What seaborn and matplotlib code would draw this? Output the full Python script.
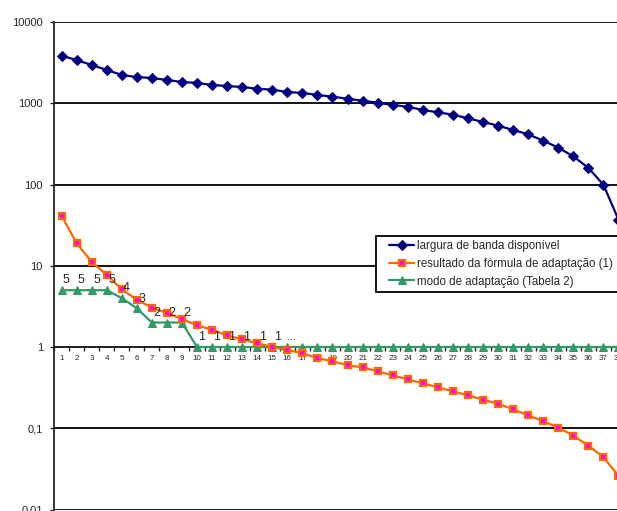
import numpy as np
import pandas as pd
import matplotlib
matplotlib.use("Agg")
import matplotlib.pyplot as plt
import seaborn as sns
from matplotlib.patches import Rectangle
from matplotlib.ticker import FixedLocator, FuncFormatter, NullFormatter

# ---------------------------------------------------------------
# data
# ---------------------------------------------------------------
categories = list(range(1, 39))

largura_banda = [3850, 3400, 2960, 2570, 2230, 2100, 2050, 1930, 1830, 1775,
                 1680, 1630, 1585, 1510, 1470, 1375, 1340, 1265, 1205, 1137,
                 1074, 1016, 951, 907, 826, 774, 723, 653, 588, 530,
                 469, 415, 346, 284, 222, 160, 99.5, 36.9]

formula_adaptacao = [41.3, 18.9, 11.2, 7.7, 5.13, 3.82, 3.05, 2.62, 2.21, 1.85,
                     1.63, 1.39, 1.24, 1.11, 1.0, 0.92, 0.836, 0.73, 0.667, 0.595,
                     0.562, 0.502, 0.448, 0.40, 0.357, 0.319, 0.285, 0.254, 0.225, 0.20,
                     0.171, 0.144, 0.122, 0.1016, 0.081, 0.061, 0.0439, 0.026]

modo_adaptacao = [5, 5, 5, 5, 4, 3, 2, 2, 2] + [1] * 29

# data labels shown above the green series (first 16 points)
modo_labels = ["5", "5", "5", "5", "4", "3", "2", "2", "2",
               "1", "1", "1", "1", "1", "1", "..."]

y_ticks = [0.01, 0.1, 1, 10, 100, 1000, 10000]
y_tick_labels = ["0,01", "0,1", "1", "10", "100", "1000", "10000"]

df = pd.DataFrame({
    "cat": categories,
    "largura": largura_banda,
    "formula": formula_adaptacao,
    "modo": modo_adaptacao,
})

# ---------------------------------------------------------------
# figure
# ---------------------------------------------------------------
sns.set_style("white")
plt.rcParams["font.family"] = ["Liberation Sans", "DejaVu Sans"]

fig = plt.figure(figsize=(6.17, 5.11), dpi=100)
# the original is cropped on the right and at the bottom
ax = fig.add_axes([54 / 617, 1.5 / 511, 572 / 617, 487.5 / 511])

for y in y_ticks:
    ax.axhline(y, color="black", lw=1.3, zorder=1)

sns.lineplot(data=df, x="cat", y="largura", ax=ax, color="#000080", lw=1.6,
             marker="D", markersize=4.8, markeredgecolor="#000080",
             label="largura de banda disponível", zorder=3)
sns.lineplot(data=df, x="cat", y="formula", ax=ax, color="#FF6600", lw=1.6,
             marker="s", markersize=5, markerfacecolor="#FF00FF",
             markeredgecolor="#FF6600", markeredgewidth=1.6,
             label="resultado da fórmula de adaptação (1)", zorder=4)
sns.lineplot(data=df, x="cat", y="modo", ax=ax, color="#339966", lw=1.6,
             marker="^", markersize=6, markeredgecolor="#339966",
             label="modo de adaptação (Tabela 2)", zorder=3)

for x, v, txt in zip(categories, modo_adaptacao, modo_labels):
    ax.annotate(txt, (x, v), xytext=(3.5, 7), textcoords="offset points",
                ha="center", va="center", fontsize=9, zorder=5)

ax.set_yscale("log")
ax.set_ylim(0.01, 10000)
ax.set_xlim(0.5, 38.5)

ax.yaxis.set_major_locator(FixedLocator(y_ticks))
ax.yaxis.set_major_formatter(FuncFormatter(lambda v, p: y_tick_labels[y_ticks.index(v)] if v in y_ticks else ""))
ax.yaxis.set_minor_locator(FixedLocator([]))
ax.yaxis.set_minor_formatter(NullFormatter())
ax.tick_params(axis="y", which="major", direction="out", length=3, width=1,
               labelsize=8, pad=5, left=True)

# category axis crosses at 1
ax.spines["bottom"].set_position(("data", 1))
ax.spines["bottom"].set_linewidth(1.3)
ax.spines["left"].set_linewidth(1.3)
ax.spines["top"].set_visible(False)
ax.spines["right"].set_visible(False)
ax.set_xticks(categories)
ax.set_xticklabels([str(c) for c in categories])
ax.set_xticks(np.arange(0.5, 39, 1), minor=True)
ax.tick_params(axis="x", which="major", length=0, labelsize=5.8, pad=6)
ax.tick_params(axis="x", which="minor", direction="out", length=3, width=1,
               bottom=True)
ax.set_xlabel("")
ax.set_ylabel("")

# legend: box runs off the right edge like the original
handles, labels = ax.get_legend_handles_labels()
ax.get_legend().remove()
box = Rectangle((376 / 617, 1 - 292 / 511), 280 / 617, 56 / 511,
                transform=fig.transFigure, facecolor="white",
                edgecolor="black", lw=1.3, zorder=4)
fig.add_artist(box)
leg = fig.legend(handles, labels, loc="upper left",
                 bbox_to_anchor=(389 / 617, 1 - 240 / 511),
                 fontsize=8.3, frameon=False, borderaxespad=0, borderpad=0,
                 handlelength=2.2, labelspacing=0.5, handletextpad=0.25)
leg.set_zorder(6)

fig.savefig("out.png", dpi=100)
